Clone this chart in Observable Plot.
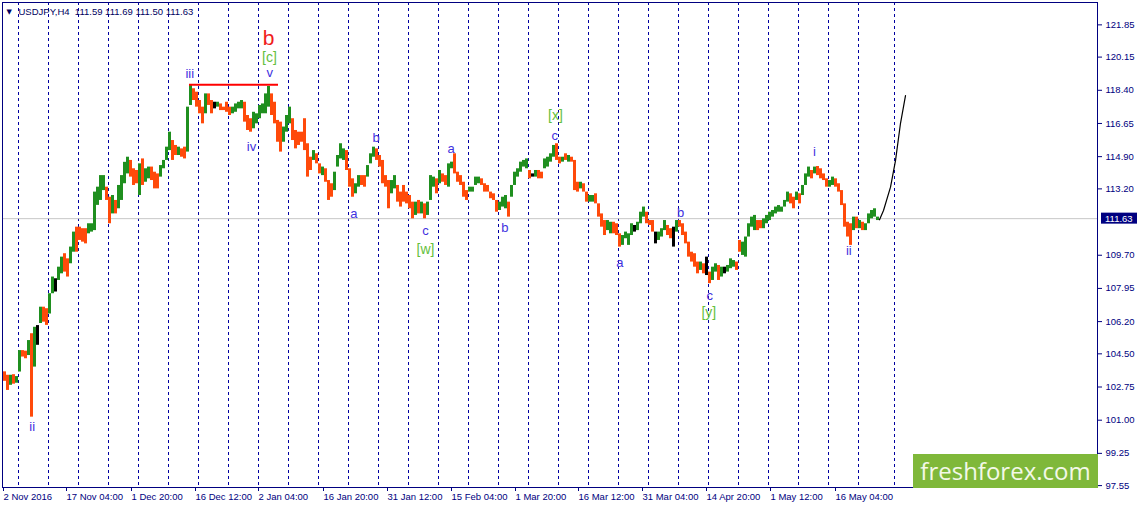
<!DOCTYPE html>
<html><head><meta charset="utf-8">
<script src="https://cdn.jsdelivr.net/npm/d3@7"></script>
<script src="https://cdn.jsdelivr.net/npm/@observablehq/plot@0.6"></script>
<style>
body{margin:0;background:#fff;}
#wrap{position:relative;width:1139px;height:509px;overflow:hidden;}
#wm{position:absolute;left:913px;top:454px;width:185px;height:34px;background:#7fb83a;color:#f3f8e8;font-family:'Open Sans',sans-serif;font-size:24px;line-height:34px;text-align:center;white-space:nowrap;}
</style></head><body><div id="wrap"></div>
<script>
// H4 bars grouped in columns of 3 bars: low / high prices and direction (u up, d down, n doji)
const lows = [
103.05,102.57,102.84,102.90,102.95,103.54,104.33,104.24,104.41,101.16,
103.80,104.95,106.10,106.17,106.00,106.60,107.67,107.76,108.37,108.72,
108.81,108.55,109.25,109.86,109.86,110.48,110.39,110.30,110.83,110.92,
111.00,112.33,112.59,113.11,112.59,111.36,111.88,111.88,112.15,112.59,
113.47,113.99,113.82,113.38,113.47,112.85,113.38,113.55,113.73,113.64,
113.20,113.20,113.82,114.26,114.70,115.22,114.70,114.96,114.96,114.87,
114.78,115.14,117.60,117.86,117.51,117.16,116.63,117.16,117.60,117.16,
117.42,117.51,117.33,117.33,117.24,117.07,117.16,117.24,117.42,117.42,
116.72,116.28,116.19,116.37,116.63,116.90,117.16,117.16,117.51,117.07,
116.63,115.66,115.14,115.66,116.19,116.63,115.75,115.31,115.49,115.66,
115.22,113.82,114.17,114.70,114.52,113.99,113.90,113.55,112.59,112.76,
113.11,114.35,114.78,114.70,114.17,113.29,112.76,112.94,113.29,113.38,
113.29,113.82,114.52,114.87,114.70,114.35,113.47,113.29,112.15,112.94,
113.20,112.50,112.24,112.50,112.41,112.15,111.62,111.80,111.88,111.88,
111.62,111.80,112.59,113.29,112.94,113.47,113.55,113.38,113.29,114.26,
113.99,113.55,113.38,112.76,112.59,113.03,113.03,113.38,113.47,113.38,
113.03,113.03,112.68,112.59,111.97,112.06,112.24,112.15,111.71,112.76,
113.38,113.82,114.08,114.35,114.26,113.73,113.82,113.82,113.73,113.73,
114.26,114.35,114.61,114.87,114.70,114.52,114.61,114.70,114.61,114.61,
113.11,113.03,113.20,113.03,112.50,112.50,112.50,112.41,111.71,111.18,
110.74,111.00,110.83,110.83,110.74,110.13,110.22,110.57,110.22,110.74,
110.92,111.00,111.36,111.71,111.36,111.27,110.92,110.30,110.48,110.66,
111.00,110.74,110.57,110.13,110.92,111.18,110.74,110.30,109.60,109.34,
109.07,108.72,108.90,108.72,108.63,108.20,108.37,108.81,108.37,108.55,
108.72,108.81,108.99,109.07,108.90,109.86,109.69,109.60,110.66,111.18,
111.00,111.00,111.10,111.10,111.36,111.53,111.71,111.88,111.97,111.97,
112.24,112.50,112.41,112.15,112.59,112.41,112.85,113.38,113.82,113.73,
113.99,113.90,113.73,113.64,113.29,113.29,113.38,113.29,113.03,112.32,
111.18,110.66,110.22,111.00,111.10,111.10,111.00,111.00,111.36,111.62,
111.71,111.53];
const highs = [
103.55,103.37,103.37,103.40,103.30,104.67,104.67,104.64,105.20,105.56,
105.90,105.99,106.96,106.96,106.88,107.67,108.55,108.46,109.07,109.60,
109.78,109.51,110.13,110.92,111.18,111.18,111.10,111.10,111.36,111.36,
113.03,113.29,113.90,113.90,113.29,112.76,112.85,112.59,113.38,113.90,
114.60,114.87,114.70,114.26,114.17,114.52,114.78,114.26,114.35,114.35,
114.08,113.99,114.43,114.70,115.40,116.19,115.75,115.49,115.40,115.31,
115.40,117.51,118.65,118.48,118.30,117.86,117.51,118.21,118.21,117.86,
117.77,117.77,117.68,117.51,117.77,117.51,117.51,117.68,117.77,117.86,
117.77,117.07,116.90,117.24,117.16,117.60,117.68,118.21,118.60,118.21,
117.77,116.81,116.72,116.46,117.07,117.51,116.90,116.28,116.19,116.19,
116.90,115.58,114.87,115.22,115.05,114.52,114.35,114.26,113.64,113.47,
114.08,114.96,115.58,115.31,115.22,114.26,113.73,113.47,113.90,113.90,
113.90,114.43,115.05,115.40,115.31,114.96,114.70,113.90,113.64,113.64,
113.90,113.38,113.03,113.38,113.03,112.85,112.50,112.50,112.59,112.50,
112.41,112.50,113.90,113.82,113.73,114.17,113.99,113.90,114.52,114.61,
115.05,114.08,113.90,113.55,113.11,113.29,113.29,113.82,113.82,113.73,
113.47,113.38,113.03,112.94,112.59,112.50,112.76,112.85,112.50,113.38,
114.08,114.26,114.61,114.70,114.78,114.17,113.99,114.17,114.17,114.08,
114.78,114.87,115.05,115.49,115.58,114.87,114.87,115.05,114.96,114.87,
114.70,113.55,113.55,113.47,113.03,112.85,112.85,112.94,112.41,111.88,
111.53,111.53,111.44,111.44,111.36,110.83,110.74,110.92,110.83,111.36,
111.27,111.44,111.97,112.24,111.97,111.53,111.53,110.92,110.92,111.10,
111.53,111.27,111.10,111.18,111.53,111.53,111.36,110.92,110.39,109.86,
109.78,109.34,109.34,109.25,109.60,108.81,109.07,109.25,109.16,109.07,
109.07,109.16,109.51,109.42,109.34,110.48,110.39,110.66,111.36,111.71,
111.80,111.53,111.53,111.62,111.80,111.97,112.06,112.24,112.32,112.24,
112.59,113.03,112.94,112.76,113.03,112.94,113.38,113.99,114.35,114.17,
114.35,114.38,114.26,113.99,113.73,113.64,113.82,113.73,113.47,113.11,
112.41,111.44,111.36,111.71,111.71,111.53,111.44,111.36,111.88,112.06,
112.15,111.71];
const dirs = [
"dduduuddud","unudduunuu","dduudddduu","uuuudduduu","uuddduduud",
"dduuuuddud","duuddddudd","nudddduuuu","ddduuuuuud","ddduuudddd",
"dddudduddd","uuuuddduud","duuudddddu","uddddddudu","duuududduu",
"ddddduuuud","ddddduuudu","uuuuudnudd","uuuuddudud","ddudduuddd",
"duuddduuuu","nuuudddnuu","uddnuddddd","ddudnduudu","nuuudduuuu",
"udduuuuuuu","uudduduuud","udddduuddd","dddududuuu","uu"].join("");
const colorOf = {u: "#1f8f1f", d: "#ff4a0a", n: "#000000"};

// axis ticks (the 111.45 grid label sits under the current-price tag)
const yTicks = [121.85,120.15,118.40,116.65,114.90,113.20,109.70,107.95,106.20,104.50,102.75,101.00,99.25,97.55];
const xTickBars = [0,63,128,192,255,320,384,448,512,575,639,703,767,832];
const xTickLabels = ["2 Nov 2016","17 Nov 04:00","1 Dec 20:00","16 Dec 12:00","2 Jan 04:00","16 Jan 20:00","31 Jan 12:00","15 Feb 04:00","1 Mar 20:00","16 Mar 12:00","31 Mar 04:00","14 Apr 20:00","1 May 12:00","16 May 04:00"];
const separators = [15,45,75,105,135,165,195,225,255,285,315,345,375,405,435,465,495,525,555,585,615,645,675,705,735,765,795,825,855,891];

const currentPrice = 111.63;
const headerText = "USDJPY,H4\u00a0\u00a0111.59 111.69 111.50 111.63";
const redLevel = 118.69, redStart = 186, redEnd = 275;

const projBars = [876,880,887,892,897,902];
const projPrices = [111.57,112.06,113.29,114.69,116.66,118.12];

const waveText  = ["ii","iii","iv","v","a","b","c","a","b","c","a","b","c","i","ii"];
const waveBar   = [28.7,186.3,248,266.3,350.3,372.7,422,447.7,501.3,551.3,616.3,677,706.3,811,845.3];
const wavePrice = [100.63,119.27,115.43,119.30,111.88,115.87,111.00,115.31,111.17,116.01,109.30,111.93,107.57,115.17,109.91];
const bracketText  = ["[c]","[w]","[x]","[y]"];
const bracketBar   = [266,422,552,705.3];
const bracketPrice = [120.13,109.98,117.07,106.66];
const bigText = ["b"], bigBar = [265], bigPrice = [121.13];

const candles = lows.map((lo, k) => ({x1: 3 * k, x2: 3 * k + 3, lo, hi: highs[k], c: colorOf[dirs[k] || "u"]}));
const proj = projBars.map((b, i) => ({b, p: projPrices[i]}));
const waves = waveText.map((t, i) => ({t, b: waveBar[i], p: wavePrice[i]}));
const brackets = bracketText.map((t, i) => ({t, b: bracketBar[i], p: bracketPrice[i]}));
const bigs = bigText.map((t, i) => ({t, b: bigBar[i], p: bigPrice[i]}));
const xLabelMap = new Map(xTickBars.map((b, i) => [b, xTickLabels[i]]));

const font = "'Liberation Sans', Arial, sans-serif";
const chart = Plot.plot({
  width: 1139, height: 509,
  marginTop: 2, marginBottom: 22, marginLeft: 2, marginRight: 42,
  style: {fontFamily: font, fontSize: "9.5px", color: "#000080", background: "#ffffff", overflow: "visible"},
  x: {domain: [-1, 1094]},
  y: {domain: [97.45, 123.03]},
  marks: [
    Plot.ruleX(separators, {stroke: "#0000a0", strokeDasharray: "3,3", strokeWidth: 1}),
    Plot.ruleY([currentPrice], {stroke: "#c8c8c8"}),
    Plot.rect(candles, {x1: "x1", x2: "x2", y1: "lo", y2: "hi", fill: "c", inset: 0}),
    Plot.ruleY([redLevel], {x1: redStart, x2: redEnd, stroke: "#ff0000", strokeWidth: 2}),
    Plot.line(proj, {x: "b", y: "p", stroke: "#000000", strokeWidth: 1.2}),
    Plot.text(waves, {x: "b", y: "p", text: "t", fill: "#3f32e0", fontSize: 13, fontFamily: font}),
    Plot.text(brackets, {x: "b", y: "p", text: "t", fill: "#64c03c", fontSize: 14, fontFamily: font}),
    Plot.text(bigs, {x: "b", y: "p", text: "t", fill: "#f01c1c", fontSize: 21, fontFamily: font}),
    Plot.text(["\u25BC"], {frameAnchor: "top-left", text: d => d, dx: 4, dy: 9, lineAnchor: "middle", textAnchor: "start", fontSize: 7, fill: "#000060", fontFamily: "'DejaVu Sans', sans-serif"}),
    Plot.text([headerText], {frameAnchor: "top-left", text: d => d, dx: 16, dy: 9, lineAnchor: "middle", textAnchor: "start", fontSize: 9.5, fill: "#000060"}),
    Plot.frame({stroke: "#000080"}),
    Plot.axisY({anchor: "right", ticks: yTicks, tickFormat: d => d.toFixed(2), tickSize: 4, tickPadding: 4, label: null}),
    Plot.axisX({anchor: "bottom", ticks: xTickBars, tickFormat: d => xLabelMap.get(d), tickSize: 4, tickPadding: 2, textAnchor: "start", label: null})
  ]
});

// current price tag on the right axis, placed with the plot's own scales
const yPos = chart.scale("y").apply(currentPrice);
const xEdge = chart.scale("x").range[1];
const tag = d3.select(chart).append("g");
tag.append("rect").attr("x", xEdge + 4).attr("y", yPos - 5.5).attr("width", 36).attr("height", 11).attr("fill", "#000080");
tag.append("text").attr("x", xEdge + 8).attr("y", yPos + 3.5).attr("fill", "#ffffff").attr("text-anchor", "start")
  .style("font-family", font).style("font-size", "9.5px").text(currentPrice.toFixed(2));

const wrap = document.getElementById("wrap");
wrap.appendChild(chart);
const wm = document.createElement("div");
wm.id = "wm";
wm.textContent = "freshforex.com";
wrap.appendChild(wm);
</script>
</body></html>
